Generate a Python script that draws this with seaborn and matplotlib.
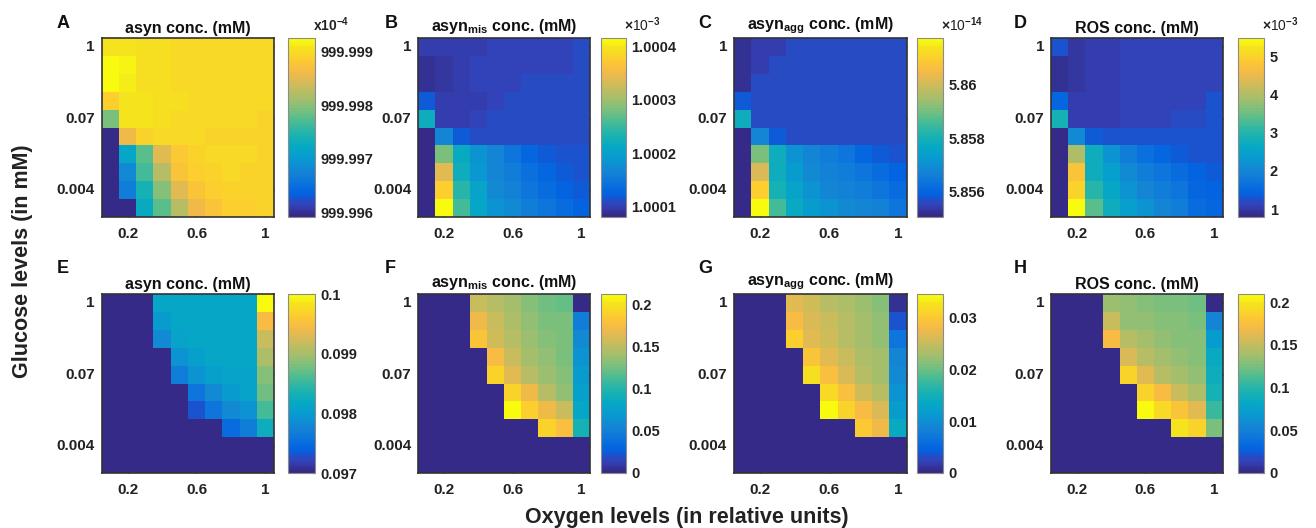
import numpy as np
import pandas as pd
import matplotlib
matplotlib.use('Agg')
import matplotlib.pyplot as plt
import seaborn as sns
from matplotlib.colors import LinearSegmentedColormap

# axis categories (10 x 10 grid), only some levels are labelled
oxygen_labels = ['', '0.2', '', '', '', '0.6', '', '', '', '1']
glucose_labels = ['1', '', '', '', '0.07', '', '', '', '0.004', '']

# A: asyn conc. (x10^-4 mM), high ATP case
asyn_A = [
    [999.99909, 999.99909, 999.99903, 999.99903, 999.99899, 999.99899, 999.99899, 999.99899, 999.99896, 999.99896],
    [999.99926, 999.99916, 999.99903, 999.99903, 999.99899, 999.99899, 999.99899, 999.99899, 999.99896, 999.99896],
    [999.99926, 999.99913, 999.99903, 999.99903, 999.99899, 999.99899, 999.99899, 999.99896, 999.99896, 999.99896],
    [999.99886, 999.99909, 999.99906, 999.99903, 999.99903, 999.99899, 999.99896, 999.99896, 999.99896, 999.99896],
    [999.99792, 999.99909, 999.99906, 999.99903, 999.99899, 999.99899, 999.99896, 999.99896, 999.99896, 999.99893],
    [999.99591, 999.99859, 999.99893, 999.99896, 999.99896, 999.99896, 999.99893, 999.99893, 999.99893, 999.99893],
    [999.99591, 999.99718, 999.99775, 999.99852, 999.99879, 999.99893, 999.99896, 999.99896, 999.99896, 999.99893],
    [999.99591, 999.99685, 999.99765, 999.99826, 999.99876, 999.99886, 999.99893, 999.99896, 999.99893, 999.99893],
    [999.99591, 999.99665, 999.99742, 999.99799, 999.99852, 999.99876, 999.99886, 999.99893, 999.99893, 999.99893],
    [999.99591, 999.99591, 999.99725, 999.99779, 999.99826, 999.99859, 999.99876, 999.99886, 999.99889, 999.99893],
]

# B: asyn_mis conc. (x10^-3 mM)
asyn_mis_B = [
    [1.000098, 1.000098, 1.000098, 1.000098, 1.000104, 1.000104, 1.000104, 1.000104, 1.000104, 1.000108],
    [1.000088, 1.000094, 1.000098, 1.000104, 1.000104, 1.000104, 1.000104, 1.000104, 1.000104, 1.000108],
    [1.000088, 1.000094, 1.000101, 1.000104, 1.000104, 1.000104, 1.000108, 1.000108, 1.000108, 1.000108],
    [1.000121, 1.000098, 1.000101, 1.000101, 1.000104, 1.000108, 1.000108, 1.000108, 1.000108, 1.000108],
    [1.000222, 1.000098, 1.000101, 1.000104, 1.000108, 1.000108, 1.000108, 1.000108, 1.000108, 1.000108],
    [1.000081, 1.000165, 1.000121, 1.000108, 1.000108, 1.000108, 1.000108, 1.000108, 1.000108, 1.000108],
    [1.000081, 1.000282, 1.000215, 1.000182, 1.000165, 1.000148, 1.000131, 1.000121, 1.000115, 1.000115],
    [1.000081, 1.000342, 1.000222, 1.000188, 1.000165, 1.000155, 1.000141, 1.000131, 1.000121, 1.000115],
    [1.000081, 1.000376, 1.000242, 1.000202, 1.000175, 1.000161, 1.000148, 1.000138, 1.000128, 1.000121],
    [1.000081, 1.000416, 1.000255, 1.000208, 1.000182, 1.000171, 1.000155, 1.000148, 1.000135, 1.000128],
]

# C: asyn_agg conc. (x10^-14 mM)
asyn_agg_C = [
    [5.85518, 5.85539, 5.85545, 5.85559, 5.85559, 5.85565, 5.85565, 5.85565, 5.85565, 5.85565],
    [5.85518, 5.85545, 5.85559, 5.85559, 5.85559, 5.85565, 5.85565, 5.85565, 5.85565, 5.85565],
    [5.85518, 5.85559, 5.85559, 5.85559, 5.85565, 5.85565, 5.85565, 5.85565, 5.85565, 5.85565],
    [5.85586, 5.85559, 5.85559, 5.85565, 5.85565, 5.85565, 5.85565, 5.85565, 5.85565, 5.85565],
    [5.85787, 5.85559, 5.85565, 5.85565, 5.85565, 5.85565, 5.85565, 5.85565, 5.85565, 5.85565],
    [5.85505, 5.85673, 5.85586, 5.85565, 5.85565, 5.85565, 5.85565, 5.85565, 5.85565, 5.85565],
    [5.85505, 5.85908, 5.85787, 5.85706, 5.85673, 5.85653, 5.85639, 5.85606, 5.85586, 5.85572],
    [5.85505, 5.86015, 5.85787, 5.85726, 5.85686, 5.85666, 5.85653, 5.85639, 5.85619, 5.85599],
    [5.85505, 5.86095, 5.85807, 5.85747, 5.85706, 5.85679, 5.85666, 5.85653, 5.85639, 5.85612],
    [5.85505, 5.86176, 5.85854, 5.85773, 5.85726, 5.85706, 5.85686, 5.85673, 5.85666, 5.85639],
]

# D: ROS conc. (x10^-3 mM)
ros_D = [
    [1.260, 0.978, 1.025, 1.025, 1.119, 1.119, 1.119, 1.119, 1.119, 1.119],
    [0.884, 0.978, 1.025, 1.025, 1.119, 1.119, 1.119, 1.119, 1.119, 1.119],
    [0.884, 0.978, 1.025, 1.025, 1.119, 1.119, 1.119, 1.119, 1.119, 1.119],
    [1.500, 1.025, 1.072, 1.072, 1.119, 1.119, 1.119, 1.119, 1.119, 1.260],
    [2.905, 1.025, 1.072, 1.072, 1.119, 1.119, 1.119, 1.166, 1.166, 1.260],
    [0.790, 2.106, 1.354, 1.260, 1.260, 1.260, 1.260, 1.260, 1.260, 1.260],
    [0.790, 3.986, 2.764, 2.200, 1.824, 1.636, 1.495, 1.354, 1.260, 1.260],
    [0.790, 4.785, 2.764, 2.435, 2.059, 1.824, 1.730, 1.542, 1.448, 1.354],
    [0.790, 5.020, 3.046, 2.576, 2.200, 1.965, 1.824, 1.730, 1.495, 1.448],
    [0.790, 5.490, 3.375, 2.764, 2.435, 2.200, 1.965, 1.824, 1.589, 1.495],
]

# E: asyn conc. (mM), second condition
asyn_E = [
    [0, 0, 0, 0.09814, 0.09814, 0.09814, 0.09814, 0.09814, 0.09814, 0.1],
    [0, 0, 0, 0.09799, 0.09814, 0.09814, 0.09814, 0.09814, 0.09814, 0.09946],
    [0, 0, 0, 0.09784, 0.09808, 0.09814, 0.09814, 0.09814, 0.09814, 0.09916],
    [0, 0, 0, 0, 0.0979, 0.09805, 0.09814, 0.09814, 0.09814, 0.09904],
    [0, 0, 0, 0, 0.09766, 0.0979, 0.09805, 0.09811, 0.09811, 0.09886],
    [0, 0, 0, 0, 0, 0.0976, 0.09784, 0.09799, 0.09808, 0.09874],
    [0, 0, 0, 0, 0, 0.0973, 0.0976, 0.09784, 0.0979, 0.09856],
    [0, 0, 0, 0, 0, 0, 0, 0.09751, 0.09766, 0.09826],
    [0, 0, 0, 0, 0, 0, 0, 0, 0, 0],
    [0, 0, 0, 0, 0, 0, 0, 0, 0, 0],
]

# F: asyn_mis conc. (mM)
asyn_mis_F = [
    [0, 0, 0, 0.1531, 0.1488, 0.1403, 0.1318, 0.1233, 0.1212, 0],
    [0, 0, 0, 0.1701, 0.1531, 0.1446, 0.1361, 0.1276, 0.1276, 0.0468],
    [0, 0, 0, 0.1807, 0.1573, 0.1488, 0.1382, 0.1318, 0.1276, 0.0574],
    [0, 0, 0, 0, 0.1743, 0.1531, 0.1424, 0.1339, 0.1276, 0.0638],
    [0, 0, 0, 0, 0.1913, 0.1658, 0.1488, 0.1382, 0.1318, 0.0702],
    [0, 0, 0, 0, 0, 0.1913, 0.1701, 0.1488, 0.1361, 0.0744],
    [0, 0, 0, 0, 0, 0.2126, 0.1871, 0.1701, 0.1531, 0.0808],
    [0, 0, 0, 0, 0, 0, 0, 0.1913, 0.1786, 0.0957],
    [0, 0, 0, 0, 0, 0, 0, 0, 0, 0],
    [0, 0, 0, 0, 0, 0, 0, 0, 0, 0],
]

# G: asyn_agg conc. (mM)
asyn_agg_G = [
    [0, 0, 0, 0.02699, 0.0256, 0.02422, 0.02353, 0.02249, 0.02145, 0.00104],
    [0, 0, 0, 0.02837, 0.0263, 0.02491, 0.02422, 0.02284, 0.0218, 0.00346],
    [0, 0, 0, 0.03045, 0.02699, 0.0256, 0.02422, 0.02318, 0.02214, 0.00692],
    [0, 0, 0, 0, 0.02941, 0.02699, 0.02491, 0.02353, 0.02284, 0.00865],
    [0, 0, 0, 0, 0.03218, 0.02906, 0.0263, 0.02422, 0.02318, 0.00969],
    [0, 0, 0, 0, 0, 0.03183, 0.02906, 0.0256, 0.02422, 0.01038],
    [0, 0, 0, 0, 0, 0.0346, 0.03114, 0.02837, 0.0263, 0.01142],
    [0, 0, 0, 0, 0, 0, 0, 0.02976, 0.02768, 0.01384],
    [0, 0, 0, 0, 0, 0, 0, 0, 0, 0],
    [0, 0, 0, 0, 0, 0, 0, 0, 0, 0],
]

# H: ROS conc. (mM)
ros_H = [
    [0, 0, 0, 0.1361, 0.134, 0.1298, 0.1256, 0.1256, 0.1215, 0],
    [0, 0, 0, 0.1508, 0.134, 0.1319, 0.1298, 0.1298, 0.1256, 0.0524],
    [0, 0, 0, 0.1717, 0.1466, 0.1382, 0.134, 0.1298, 0.1298, 0.0691],
    [0, 0, 0, 0, 0.1591, 0.1466, 0.1382, 0.134, 0.1298, 0.0838],
    [0, 0, 0, 0, 0.1885, 0.1633, 0.1466, 0.1382, 0.134, 0.0879],
    [0, 0, 0, 0, 0, 0.1885, 0.1717, 0.1508, 0.1424, 0.0942],
    [0, 0, 0, 0, 0, 0.2094, 0.1926, 0.178, 0.1633, 0.1047],
    [0, 0, 0, 0, 0, 0, 0, 0.1968, 0.1885, 0.1256],
    [0, 0, 0, 0, 0, 0, 0, 0, 0, 0],
    [0, 0, 0, 0, 0, 0, 0, 0, 0, 0],
]

panel_data = [asyn_A, asyn_mis_B, asyn_agg_C, ros_D, asyn_E, asyn_mis_F, asyn_agg_G, ros_H]
panel_letters = ['A', 'B', 'C', 'D', 'E', 'F', 'G', 'H']
panel_titles = ['asyn conc. (mM)', r'asyn$_{\mathbf{mis}}$ conc. (mM)',
                r'asyn$_{\mathbf{agg}}$ conc. (mM)', 'ROS conc. (mM)'] * 2
# colour limits: None = auto (min/max of the data)
panel_clim = [None, None, None, None, (0.097, 0.1), None, None, None]
cbar_ticks = [
    [999.996, 999.997, 999.998, 999.999],
    [1.0001, 1.0002, 1.0003, 1.0004],
    [5.856, 5.858, 5.86],
    [1, 2, 3, 4, 5],
    [0.097, 0.098, 0.099, 0.1],
    [0, 0.05, 0.1, 0.15, 0.2],
    [0, 0.01, 0.02, 0.03],
    [0, 0.05, 0.1, 0.15, 0.2],
]
cbar_exponent = [r'x10$^{\mathbf{-4}}$', r'$\times$10$^{-3}$', r'$\times$10$^{-14}$', r'$\times$10$^{-3}$',
                 None, None, None, None]

# MATLAB parula (old version), sampled from the 64 entry table
parula_idx = [0, 4, 8, 12, 16, 20, 24, 28, 32, 36, 40, 44, 48, 52, 56, 60, 63]
parula_rgb = [
    (0.2081, 0.1663, 0.5292), (0.1959, 0.2645, 0.7279), (0.0117, 0.3875, 0.8820),
    (0.0498, 0.4586, 0.8641), (0.0793, 0.5200, 0.8312), (0.0343, 0.5966, 0.8199),
    (0.0228, 0.6535, 0.7768), (0.0843, 0.6928, 0.7062), (0.2178, 0.7250, 0.6193),
    (0.3953, 0.7459, 0.5244), (0.5709, 0.7485, 0.4494), (0.7184, 0.7411, 0.3905),
    (0.8507, 0.7299, 0.3360), (0.9739, 0.7314, 0.2666), (0.9880, 0.8066, 0.1794),
    (0.9589, 0.8949, 0.1132), (0.9763, 0.9831, 0.0538),
]
parula = LinearSegmentedColormap.from_list(
    'parula', [(i / 63, c) for i, c in zip(parula_idx, parula_rgb)], N=64)

sns.set_theme(style='white')
plt.rcParams['font.family'] = ['Liberation Sans', 'DejaVu Sans']
plt.rcParams['font.weight'] = 'bold'
plt.rcParams['mathtext.fontset'] = 'custom'
plt.rcParams['mathtext.rm'] = 'Liberation Sans'
plt.rcParams['mathtext.bf'] = 'Liberation Sans:bold'
plt.rcParams['mathtext.it'] = 'Liberation Sans:italic'

W, H = 1316, 528
fig = plt.figure(figsize=(W / 100, H / 100), dpi=100)


def px_axes(x0, y0, x1, y1):
    # axes from pixel box (top-left origin)
    return fig.add_axes([x0 / W, 1 - y1 / H, (x1 - x0) / W, (y1 - y0) / H])


heat_x = [(101.7, 274), (418.3, 590), (734, 906.7), (1051, 1222.7)]
cbar_x = [(288, 315), (600.7, 626), (917.3, 942.7), (1237.7, 1264.3)]
row_y = [(38, 217), (294, 473)]
letter_x = [57, 385, 698, 1014]
letter_y = [28, 273]
edge = '#333333'

for k in range(8):
    r, c = divmod(k, 4)
    ax = px_axes(heat_x[c][0], row_y[r][0], heat_x[c][1], row_y[r][1])
    cax = px_axes(cbar_x[c][0], row_y[r][0], cbar_x[c][1], row_y[r][1])
    df = pd.DataFrame(np.array(panel_data[k]), index=glucose_labels, columns=oxygen_labels)
    lim = panel_clim[k]
    sns.heatmap(df, ax=ax, cbar_ax=cax, cmap=parula,
                vmin=lim[0] if lim else None, vmax=lim[1] if lim else None,
                linewidths=0, xticklabels=True, yticklabels=True)

    xk = [i for i, t in enumerate(oxygen_labels) if t]
    yk = [i for i, t in enumerate(glucose_labels) if t]
    ax.set_xticks([i + 0.5 for i in xk])
    ax.set_xticklabels([oxygen_labels[i] for i in xk], rotation=0, fontsize=11, fontweight='bold')
    ax.set_yticks([i + 0.5 for i in yk])
    ax.set_yticklabels([glucose_labels[i] for i in yk], rotation=0, fontsize=11, fontweight='bold')
    ax.tick_params(axis='both', direction='in', length=3, width=1, color=edge,
                   top=True, right=True, bottom=True, left=True, labelcolor='#222222')
    ax.tick_params(axis='x', pad=7)
    ax.tick_params(axis='y', pad=5)
    ax.set_xlabel('')
    ax.set_ylabel('')
    for sp in ax.spines.values():
        sp.set_visible(True)
        sp.set_color(edge)
        sp.set_linewidth(1.2)

    ax.text(0.5, 1 + 2 / 179, panel_titles[k], transform=ax.transAxes, ha='center',
            va='bottom', fontsize=11.5, fontweight='bold', color='#111111')

    cb = ax.collections[0].colorbar
    cb.set_ticks(cbar_ticks[k])
    cb.set_ticklabels([f'{t:g}' for t in cbar_ticks[k]])
    cb.outline.set_linewidth(0.8)
    cb.outline.set_edgecolor('#8c8c8c')
    cax.tick_params(axis='y', direction='in', length=3, width=0.8, color=edge,
                    right=True, left=False, labelsize=10.5, pad=4, labelcolor='#222222')
    for t in cax.get_yticklabels():
        t.set_fontweight('bold')

    fig.text(letter_x[c] / W, 1 - letter_y[r] / H, panel_letters[k], fontsize=13,
             fontweight='bold', ha='left', va='baseline', color='#111111')
    if cbar_exponent[k]:
        fig.text((cbar_x[c][1] - 2) / W, 1 - 31 / H, cbar_exponent[k], fontsize=10,
                 fontweight='bold' if k == 0 else 'normal', ha='left', va='baseline',
                 color='#222222')

fig.text(687 / W, 1 - 523 / H, 'Oxygen levels (in relative units)', ha='center',
         va='baseline', fontsize=15.5, fontweight='bold', color='#222222')
fig.text(23 / W, 1 - 261 / H, 'Glucose levels (in mM)', rotation=90, ha='center',
         va='center', fontsize=15.5, fontweight='bold', color='#222222')

fig.savefig('out.png', dpi=100)
